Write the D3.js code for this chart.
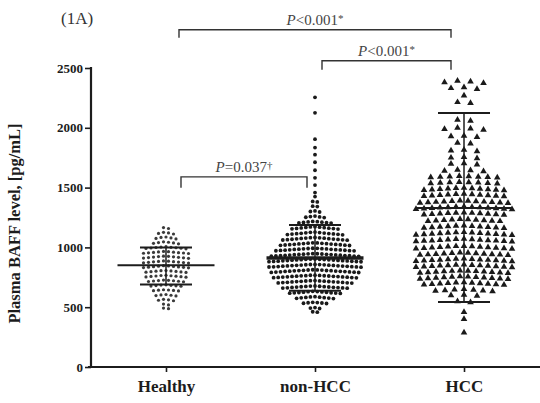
<!DOCTYPE html>
<html><head><meta charset="utf-8">
<script src="https://cdn.jsdelivr.net/npm/d3@7"></script>
<style>body{margin:0;background:#fff}svg{display:block}</style>
</head><body><svg id="c" width="540" height="403"></svg>
<script>
const categories = ["Healthy", "non-HCC", "HCC"];
const yTicks = [0, 500, 1000, 1500, 2000, 2500];

const healthy = [
  1166,1158,
  1126,1121,1117,1112,
  1087,1083,1079,1075,1071,
  1047,1043,1040,1037,1034,1030,
  1006,1003,1001,999,997,995,993,991,988,
  966,964,962,960,958,956,955,953,951,949,
  927,925,923,921,919,917,915,913,911,909,
  887,885,883,881,879,877,875,873,871,869,
  847,845,843,841,839,837,835,833,831,829,
  807,805,803,801,799,797,795,793,791,
  767,765,763,761,759,757,755,753,751,
  727,725,723,721,719,717,715,713,
  687,685,683,681,679,677,675,
  646,644,642,640,638,636,
  606,603,600,597,594,
  566,562,558,554,
  526,519,
  493,488
];

const nonHCC = [
  2255,2125,1905,1835,1775,1712,1645,1582,1521,1458,1425,1384,1380,1345,1341,
  1305,1300,1296,
  1262,1258,1255,1252,1249,
  1217,1215,1213,1211,1209,1207,1205,1203,
  1173,1171,1169,1167,1165,1163,1161,1159,1157,1155,1153,
  1128,1126,1124,1122,1120,1118,1116,1115,1113,1111,1109,1107,1105,
  1083,1081,1080,1078,1077,1075,1073,1072,1070,1068,1067,1065,1063,1062,1060,
  1038,1037,1035,1034,1032,1031,1029,1028,1026,1025,1023,1022,1020,1019,1017,1016,
  993,992,991,989,988,987,985,984,983,981,980,979,977,976,975,973,972,971,
  948,947,946,945,943,942,941,940,939,937,936,935,934,932,931,930,929,927,926,925,
  903,902,901,900,899,897,896,895,894,893,891,890,889,888,887,885,884,883,882,881,880,
  858,857,856,855,854,852,851,850,849,848,846,845,844,843,842,840,839,838,837,836,835,
  813,812,811,810,808,807,806,805,804,802,801,800,799,798,796,795,794,793,791,790,
  768,767,766,764,763,762,761,759,758,757,756,754,753,752,751,749,748,747,746,
  723,722,720,719,718,716,715,714,712,711,710,708,707,706,704,703,702,
  678,677,675,674,672,671,669,668,666,665,664,662,661,660,659,
  633,631,630,628,626,625,623,621,620,618,617,615,
  588,586,584,582,580,578,576,574,572,
  541,539,537,535,533,531,
  497,493,489,
  462,458
];

const hcc = [
  2392,2386,2380,2374,
  2338,2331,2324,
  2270,
  2214,2206,
  2066,2058,
  1999,1994,1989,1984,
  1933,1928,1923,
  1874,1868,
  1816,1810,1804,
  1755,1750,1745,
  1703,1698,1693,
  1648,1644,1640,1636,
  1597,1595,1593,1591,1589,1587,1585,1583,
  1547,1545,1543,1541,1539,1537,1535,1533,
  1497,1495,1493,1491,1489,1487,1485,1483,1481,1479,1477,
  1447,1445,1443,1441,1439,1437,1435,1433,1431,1429,1427,
  1392,1390,1388,1386,1384,1382,1380,1378,1376,1374,1372,1370,
  1342,1340,1338,1336,1334,1332,1330,1328,1326,1324,1322,1320,1318,
  1292,1290,1288,1286,1284,1282,1280,1278,1276,1274,1272,
  1237,1235,1233,1231,1229,1227,1225,1223,1221,1219,
  1182,1180,1178,1176,1174,1172,1170,1168,1166,1164,1162,
  1127,1125,1123,1121,1119,1117,1115,1113,1111,1109,1107,1105,1103,
  1072,1070,1068,1066,1064,1062,1060,1058,1056,1054,1052,1050,1048,
  1012,1010,1008,1006,1004,1002,1000,998,996,994,992,990,988,
  957,955,953,951,949,947,945,943,941,939,937,935,
  907,905,903,901,899,897,895,893,891,889,887,885,883,
  857,855,853,851,849,847,845,843,841,839,837,835,833,
  807,805,803,801,799,797,795,793,791,789,787,785,
  757,755,753,751,749,747,745,743,741,739,737,735,
  707,705,703,701,699,697,695,693,691,690,688,
  651,648,645,642,639,636,633,
  603,599,595,
  549,541,
  460,
  400,
  288
];

const groupMeans = [850, 912, 1330];
const sdUpper = [1000, 1187, 2124];
const sdLower = [690, 637, 543];

const compFrom = ["Healthy", "non-HCC", "Healthy"];
const compTo = ["HCC", "HCC", "non-HCC"];
const compLevel = [2820, 2560, 1590];
const compOp = ["<0.001", "<0.001", "=0.037"];
const compMark = ["*", "*", "†"];

// ---------- drawing ----------
const svg = d3.select("#c");
const ink = "#1c1c1c";
const serif = "'Liberation Serif','Times New Roman',serif";

const x = d3.scalePoint().domain(categories).range([90, 540]).padding(0.51);
const y = d3.scaleLinear().domain([0, 2500]).range([367, 68]);

// bracket insets (px) relative to category centre
const inset = [[13, -13], [7, -13], [15, -8]];
const drop = [8, 9, 11];

// Y axis
const yAxis = d3.axisLeft(y).tickValues(yTicks).tickSize(6).tickPadding(2).tickFormat(d3.format("d"));
const gy = svg.append("g").attr("transform", "translate(91,0)").call(yAxis);
gy.select(".domain").remove();
gy.selectAll(".tick line").attr("stroke", ink).attr("stroke-width", 1.6);
gy.selectAll(".tick text").attr("fill", ink).style("font-family", serif)
  .style("font-weight", "bold").style("font-size", "13px");
svg.append("line").attr("x1", 91).attr("x2", 91).attr("y1", y(2500) - 1).attr("y2", y(0) + 1)
  .attr("stroke", ink).attr("stroke-width", 2.2);

// X axis
const xAxis = d3.axisBottom(x).tickSize(5).tickPadding(8);
const gx = svg.append("g").attr("transform", `translate(0,${y(0)})`).call(xAxis);
gx.select(".domain").remove();
gx.selectAll(".tick line").attr("stroke", ink).attr("stroke-width", 1.6);
gx.selectAll(".tick text").attr("fill", ink).style("font-family", serif)
  .style("font-weight", "bold").style("font-size", "17px");
svg.append("line").attr("x1", 88).attr("x2", 540).attr("y1", y(0)).attr("y2", y(0))
  .attr("stroke", ink).attr("stroke-width", 2.2);

// Y title
svg.append("text").attr("transform", `translate(20,${(y(0) + y(2500)) / 2 + 6}) rotate(-90)`)
  .attr("text-anchor", "middle").attr("fill", ink)
  .style("font-family", serif).style("font-weight", "bold").style("font-size", "16.5px")
  .text("Plasma BAFF level, [pg/mL]");

// panel label
svg.append("text").attr("x", 61).attr("y", 24).attr("fill", "#333")
  .style("font-family", serif).style("font-size", "17px").text("(1A)");

// beeswarm layout: cluster sorted values into rows, spread horizontally centre-out
function swarm(values, gap, spacingFn) {
  const sorted = values.slice().sort((a, b) => b - a);
  const rows = [];
  let cur = null;
  for (const v of sorted) {
    if (!cur || cur.start - v > gap) { cur = { start: v, vals: [] }; rows.push(cur); }
    cur.vals.push(v);
  }
  const out = [];
  rows.forEach(r => {
    const n = r.vals.length;
    const sp = spacingFn(n);
    const slots = d3.range(n).map(i => (i - (n - 1) / 2) * sp);
    slots.sort((a, b) => Math.abs(a) - Math.abs(b) || a - b);
    r.vals.forEach((v, i) => out.push({ v, dx: slots[i] }));
  });
  return out;
}

// Healthy dots
svg.append("g").selectAll("circle").data(swarm(healthy, 30, () => 5)).join("circle")
  .attr("cx", d => x("Healthy") + d.dx).attr("cy", d => y(d.v)).attr("r", 1.6)
  .attr("fill", "#3a3a3a");

// non-HCC dots
svg.append("g").selectAll("circle").data(swarm(nonHCC, 32, () => 4.6)).join("circle")
  .attr("cx", d => x("non-HCC") + d.dx).attr("cy", d => y(d.v)).attr("r", 1.9)
  .attr("fill", "#1a1a1a");

// HCC triangles
const tri = d3.symbol().type(d3.symbolTriangle).size(19);
svg.append("g").selectAll("path").data(swarm(hcc, 38, n => n <= 4 ? 13 : (n <= 8 ? 9.5 : 8))).join("path")
  .attr("transform", d => `translate(${x("HCC") + d.dx},${y(d.v)})`).attr("d", tri)
  .attr("fill", "#1a1a1a");

// mean & SD bars
const eb = svg.append("g").attr("stroke", ink);
categories.forEach((c, i) => {
  const cx = x(c);
  eb.append("line").attr("x1", cx).attr("x2", cx).attr("y1", y(sdUpper[i])).attr("y2", y(sdLower[i])).attr("stroke-width", 1.5);
  eb.append("line").attr("x1", cx - 48.5).attr("x2", cx + 48.5).attr("y1", y(groupMeans[i])).attr("y2", y(groupMeans[i])).attr("stroke-width", i === 1 ? 3.5 : 2);
  [sdUpper[i], sdLower[i]].forEach(s => {
    eb.append("line").attr("x1", cx - 26).attr("x2", cx + 26).attr("y1", y(s)).attr("y2", y(s)).attr("stroke-width", 2);
  });
});

// significance brackets
const br = svg.append("g");
compFrom.forEach((f, i) => {
  const x1 = x(f) + inset[i][0], x2 = x(compTo[i]) + inset[i][1], yy = y(compLevel[i]);
  br.append("path").attr("d", `M${x1},${yy + drop[i]}V${yy}H${x2}V${yy + drop[i]}`)
    .attr("fill", "none").attr("stroke", "#333").attr("stroke-width", 1.4);
  const t = br.append("text").attr("x", (x1 + x2) / 2).attr("y", yy - 5).attr("text-anchor", "middle")
    .attr("fill", "#444").style("font-family", serif).style("font-size", "15px");
  t.append("tspan").style("font-style", "italic").text("P");
  t.append("tspan").text(compOp[i]);
  t.append("tspan").attr("dy", -3).style("font-size", "11px").text(compMark[i]);
});
</script>
</body></html>
